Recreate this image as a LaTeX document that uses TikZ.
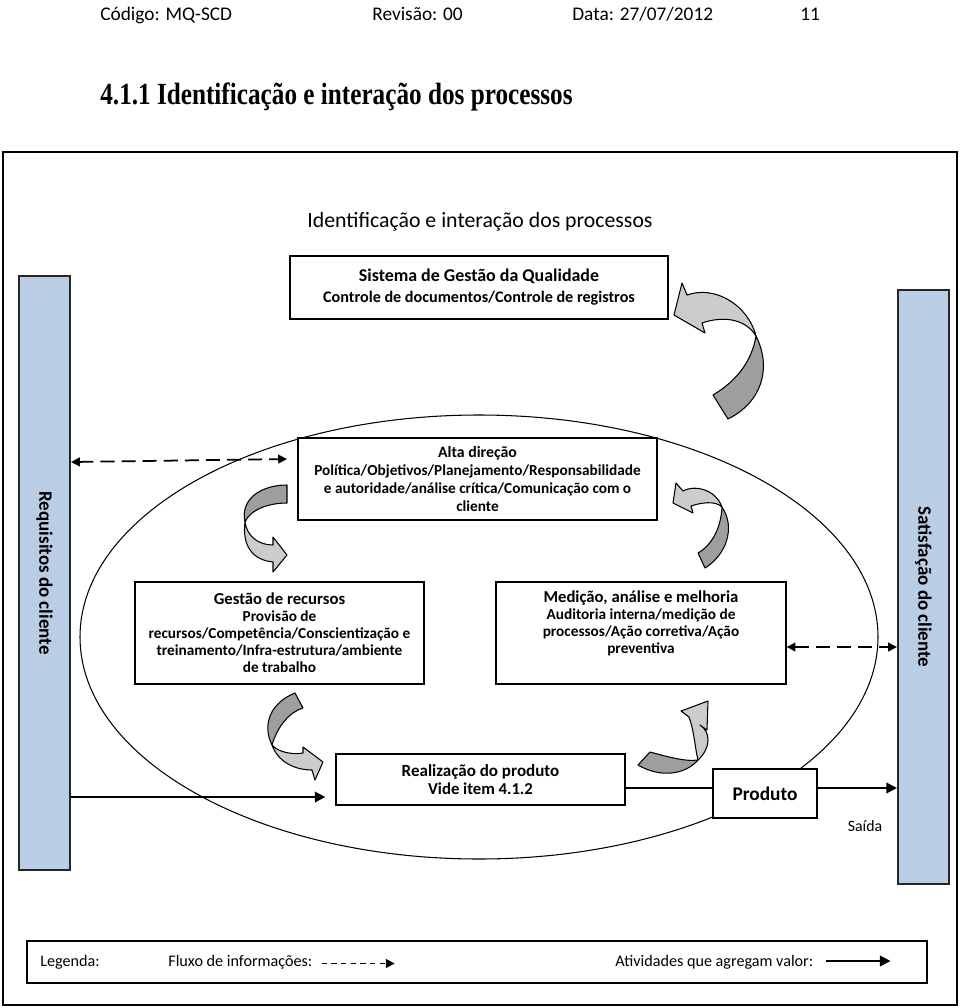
\documentclass[tikz,border=0pt]{standalone}
\usepackage{fontspec}
\setmainfont{Carlito}
\newfontfamily\titlefont[FakeStretch=0.82]{Liberation Serif}
\usetikzlibrary{arrows.meta,positioning}

\definecolor{azulbarra}{HTML}{B9CDE5}
\newcommand{\tamanho}[2]{\fontsize{#1}{#2}\selectfont}

\tikzset{
	caixa/.style	= {draw, fill=white, line width=0.8pt, align=center, inner sep=2pt},
	barra/.style	= {draw=black!85, fill=azulbarra, line width=1.2pt, minimum width=1.02cm, minimum height=11.88cm},
	fluxo/.style	= {line width=1pt, dash pattern=on 8pt off 4pt, {Triangle[length=5pt,width=5pt]}-{Triangle[length=5pt,width=5pt]}},
	valor/.style	= {line width=1.1pt, -{Triangle[length=6pt,width=6pt]}},
	clara/.style	= {draw, fill=black!20, line width=0.6pt, line join=round},
	escura/.style	= {draw, fill=black!38, line width=0.6pt, line join=round}
}

\begin{document}
\begin{tikzpicture}[x=0.02cm, y=-0.02cm, inner sep=0pt]
	\useasboundingbox (0,0) rectangle (960,1008);

	% cabecalho
	\node	(codigo)	[anchor=base west, font=\tamanho{11}{13}]	at (100,20)	{Código: MQ-SCD};
	\node	(revisao)	[anchor=base west, font=\tamanho{11}{13}]	at (372,20)	{Revisão: 00};
	\node	(data)		[anchor=base west, font=\tamanho{11}{13}]	at (572,20)	{Data: 27/07/2012};
	\node	(pagina)	[anchor=base west, font=\tamanho{11}{13}]	at (800,20)	{11};
	\node	(titulo)	[anchor=base west, font=\titlefont\bfseries\tamanho{17.5}{20}]	at (100,104)	{4.1.1 Identificação e interação dos processos};

	% moldura e elipse
	\draw [line width=1.1pt] (3,152) rectangle (957,1005);
	\draw [line width=0.6pt] (479,637) ellipse [x radius=399, y radius=222];

	\node	(titint)	[anchor=base, font=\tamanho{12.4}{14}]	at (480,227)	{Identificação e interação dos processos};

	% caixas
	\node	(sgq)		[caixa, minimum width=7.56cm, minimum height=1.26cm]	at (479,287.5)
		{{\bfseries\tamanho{10.2}{12.5}Sistema de Gestão da Qualidade}\\
		 {\bfseries\tamanho{9.2}{11}Controle de documentos/Controle de registros}};
	\node	(alta)		[caixa, minimum width=7.18cm, minimum height=1.64cm, font=\bfseries\tamanho{8.7}{10.1}]	at (477.5,479)
		{{\tamanho{9}{10}Alta direção}\\
		 Política/Objetivos/Planejamento/Responsabilidade\\
		 e autoridade/análise crítica/Comunicação com o\\
		 cliente};
	\node	(gestao)	[caixa, minimum width=5.78cm, minimum height=2.04cm, font=\bfseries\tamanho{8.7}{9.7}]	at (279.5,633)
		{{\tamanho{9.5}{10}Gestão de recursos}\\
		 Provisão de\\
		 recursos/Competência/Conscientização e\\
		 treinamento/Infra-estrutura/ambiente\\
		 de trabalho};
	\node	(medicao)	[caixa, minimum width=5.8cm, minimum height=2.04cm, font=\bfseries\tamanho{8.7}{9.7}]	at (641,633)
		{\parbox[c][1.7cm][t]{5.6cm}{\centering
		 {\tamanho{9.5}{10}Medição, análise e melhoria}\\
		 Auditoria interna/medição de\\
		 processos/Ação corretiva/Ação\\
		 preventiva}};
	\node	(realiz)	[caixa, minimum width=5.78cm, minimum height=1.02cm, font=\bfseries\tamanho{9.5}{10.5}]	at (480.5,779.5)
		{{\tamanho{9.7}{10.5}Realização do produto}\\
		 Vide item 4.1.2};
	\node	(produto)	[caixa, minimum width=2.08cm, minimum height=0.98cm, font=\bfseries\tamanho{11}{13}]	at (765,793.5)	{Produto};
	\node	(saida)		[font=\tamanho{9}{11}]	at (865,826)	{Saída};

	% barras laterais
	\node	(req)		[barra]	at (44.5,573)	{};
	\node	(sat)		[barra]	at (923.5,587)	{};
	\node	(reqtexto)	[rotate=-90, font=\bfseries\tamanho{10.8}{12}]	at (req)	{Requisitos do cliente};
	\node	(sattexto)	[rotate=-90, font=\bfseries\tamanho{10.8}{12}]	at (sat)	{Satisfação do cliente};

	% fluxos
	\coordinate	(fimreq)	at (287,459);
	\draw [fluxo] ([yshift=2.22cm]req.east) -- (fimreq);
	\draw [fluxo] ([yshift=-0.28cm]medicao.east) -- ([yshift=-0.28cm]medicao.east -| sat.west);
	\draw [valor] ([yshift=-0.35cm]realiz.west -| req.east) -- ([xshift=-0.2cm, yshift=-0.35cm]realiz.west);
	\draw [line width=1.1pt] ([yshift=-0.17cm]realiz.east) -- ([yshift=-0.17cm]realiz.east -| produto.west);
	\draw [valor] ([yshift=0.11cm]produto.east) -- ([yshift=0.11cm]produto.east -| sat.west);

	% setas curvas
	\draw [escura] (756,336) .. controls (772,368) and (762,402) .. (728,419) -- (713,395) .. controls (738,380) and (752,360) .. (756,336) -- cycle;
	\draw [clara] (756,336) .. controls (748,305) and (715,285) .. (687,295) -- (682,283) -- (674,315) -- (705,333) -- (702,323) .. controls (722,316) and (745,318) .. (756,336) -- cycle;

	\draw [escura] (287,485) -- (287,503) .. controls (268,503) and (250,510) .. (245,522) .. controls (240,500) and (260,485) .. (287,485) -- cycle;
	\draw [clara] (245,522) .. controls (247,536) and (258,545) .. (273,545) -- (273,537) -- (287,555) -- (273,572) -- (273,562) .. controls (252,560) and (242,545) .. (245,522) -- cycle;

	\draw [escura] (722,507) .. controls (736,528) and (726,555) .. (705,568) -- (698,553) .. controls (712,545) and (721,528) .. (722,507) -- cycle;
	\draw [clara] (722,507) .. controls (715,488) and (693,485) .. (683,491) -- (676,483) -- (673,503) -- (693,513) -- (691,506) .. controls (700,503) and (715,500) .. (722,507) -- cycle;

	\draw [escura] (295,693) -- (303,708) .. controls (290,712) and (278,725) .. (272,745) .. controls (262,725) and (270,703) .. (295,693) -- cycle;
	\draw [clara] (272,745) .. controls (278,752) and (292,755) .. (303,753) -- (303,747) -- (323,762) -- (315,780) -- (312,770) .. controls (295,770) and (278,762) .. (272,745) -- cycle;

	\draw [escura] (638,765) -- (650,752) .. controls (665,756) and (685,762) .. (698,760) .. controls (685,775) and (660,778) .. (638,765) -- cycle;
	\draw [clara] (698,760) .. controls (711,748) and (711,732) .. (700,725) -- (707,730) -- (708,701) -- (681,711) -- (689,717) .. controls (694,730) and (695,748) .. (698,760) -- cycle;

	% legenda
	\node	(legenda)	[draw, line width=1.1pt, minimum width=18cm, minimum height=0.84cm]	at (477,962)	{};
	\node	(legtexto)	[anchor=base west, font=\tamanho{9.2}{11}]	at (40,966)	{Legenda:};
	\node	(legfluxo)	[anchor=base west, font=\tamanho{9.2}{11}]	at (168,966)	{Fluxo de informações:};
	\node	(legvalor)	[anchor=base west, font=\tamanho{9.2}{11}]	at (615,966)	{Atividades que agregam valor:};
	\draw [line width=1pt, dash pattern=on 3pt off 2.5pt, -{Triangle[length=5pt,width=5pt]}] ([xshift=0.18cm, yshift=0.05cm]legfluxo.base east) -- ++(73,0);
	\draw [valor] ([xshift=0.24cm, yshift=0.1cm]legvalor.base east) -- ++(65,0);
\end{tikzpicture}
\end{document}
